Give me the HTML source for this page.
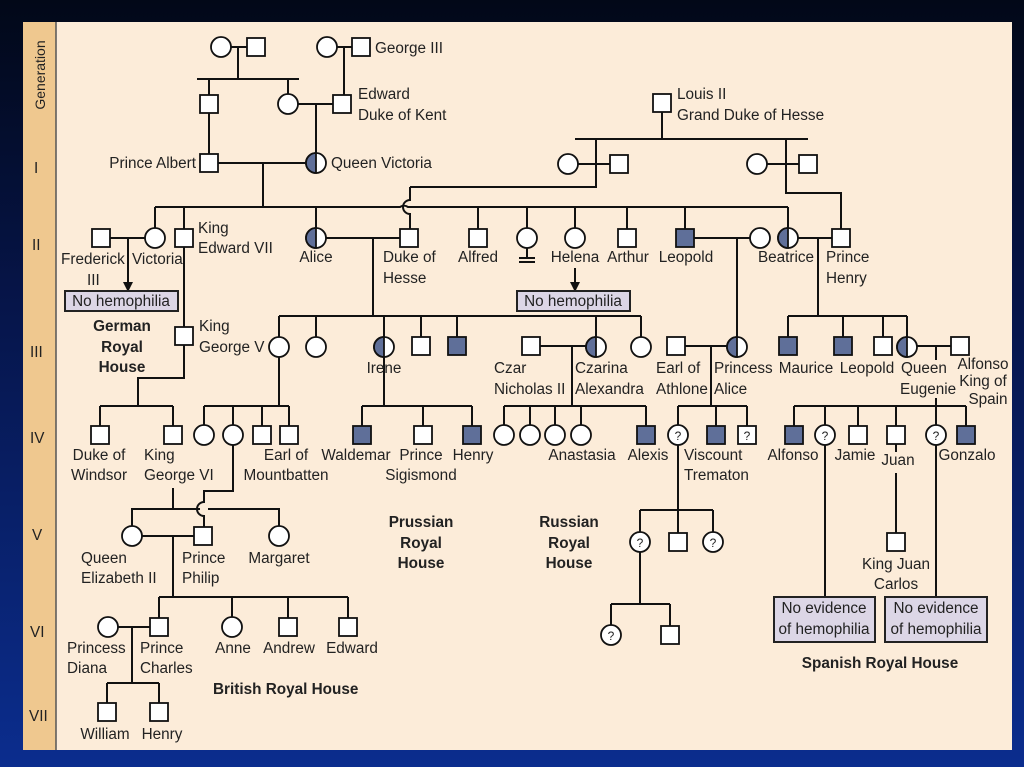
<!DOCTYPE html>
<html><head><meta charset="utf-8"><style>
html,body{margin:0;padding:0;width:1024px;height:767px;overflow:hidden;background:linear-gradient(#020818,#06154a 40%,#0b2d8e);}
svg{position:absolute;left:0;top:0}
text{font-family:"Liberation Sans",sans-serif;font-size:15.3px;fill:#222}
.b{font-weight:bold}
</style></head><body>
<svg width="1024" height="767" viewBox="0 0 1024 767">
<rect x="23" y="22" width="989" height="728" fill="#fcecd9"/>
<rect x="23" y="22" width="33" height="728" fill="#efc88f"/>
<line x1="56" y1="22" x2="56" y2="750" stroke="#555" stroke-width="1.5"/>
<text transform="translate(45,75) rotate(-90)" text-anchor="middle" style="font-size:14px">Generation</text>
<g>
<text x="34" y="173">I</text><text x="32" y="250">II</text><text x="30" y="357">III</text>
<text x="30" y="443">IV</text><text x="32" y="540">V</text><text x="30" y="637">VI</text><text x="29" y="721">VII</text>
</g>
<g stroke="#111" stroke-width="2" fill="none">
<path d="M221,47H256M238,47V79M197,79H299M209,79V104M288,79V104"/>
<path d="M327,47H361M344,47V104M288,104H342M316,104V163"/>
<path d="M209,104V163M209,163H316M263,163V207"/>
<path d="M155,207H400A7,7 0 0 1 408,207H788"/>
<path d="M410,187V200A7,7 0 0 0 410,214V238"/>
<path d="M410,187H596V139M575,139H808M568,164H619M757,164H808M786,139V193H841V238"/>
<path d="M662,103V139"/>
<path d="M155,207V238M184,207V336M316,207V238M478,207V238M527,207V238M575,207V238M627,207V238M685,207V238M788,207V238"/>
<path d="M101,238H155M128,238V284M316,238H409M373,238V316"/>
<path d="M527,248V258M519,258H535M519,262H535"/>
<path d="M575,268V284"/>
<path d="M685,238H760M737,238V346M788,238H841M818,238V316"/>
<path d="M279,316H641M279,316V346M316,316V346M384,316V346M421,316V346M457,316V346M596,316V346M641,316V346"/>
<path d="M788,316H907M788,316V346M843,316V346M883,316V346M907,316V346"/>
<path d="M531,346H596M572,346V406M676,346H737M711,346V406M907,346H960M936,346V360M936,398V406"/>
<path d="M184,336V378H138V406M100,406H173M100,406V426M173,406V426"/>
<path d="M279,346V406M204,406H289M204,406V426M233,406V426M262,406V426M289,406V426"/>
<path d="M384,356V406M362,406H472M362,406V426M423,406V426M472,406V426"/>
<path d="M504,406H646M504,406V426M530,406V426M555,406V426M581,406V426M646,406V426"/>
<path d="M678,406H747M678,406V426M716,406V426M747,406V426"/>
<path d="M794,406H966M794,406V426M825,406V426M858,406V426M896,406V426M936,406V426M966,406V426"/>
<path d="M233,445V491H204V502A7,7 0 0 0 204,516V527"/>
<path d="M173,488V509H132V526M132,509H200M208,509H279V526"/>
<path d="M132,536H204M173,536V597M159,597H348M159,597V618M232,597V617M288,597V618M348,597V618"/>
<path d="M108,627H159M132,627V683M107,683H159M107,683V703M159,683V703"/>
<path d="M678,445V510M640,510H713M640,510V532M678,510V533M713,510V532M640,552V604M611,604H670M611,604V625M670,604V626"/>
<path d="M825,445V597M936,445V597M896,444V452M896,473V533"/>
</g>
<polygon points="123,282 133,282 128,292" fill="#111"/>
<polygon points="570,282 580,282 575,292" fill="#111"/>
<g stroke="#222" stroke-width="2" fill="#dcd6e6">
<rect x="65" y="291" width="113" height="20"/>
<rect x="517" y="291" width="113" height="20"/>
<rect x="774" y="597" width="101" height="45"/>
<rect x="885" y="597" width="102" height="45"/>
</g>
<g text-anchor="middle">
<text x="121" y="306">No hemophilia</text><text x="573" y="306">No hemophilia</text>
<text x="824" y="613">No evidence</text><text x="824" y="634">of hemophilia</text>
<text x="936" y="613">No evidence</text><text x="936" y="634">of hemophilia</text>
</g>
<g stroke="#111" stroke-width="1.8" fill="#fff">
<rect x="247" y="38" width="18" height="18"/><rect x="352" y="38" width="18" height="18"/>
<rect x="200" y="95" width="18" height="18"/><rect x="333" y="95" width="18" height="18"/>
<rect x="653" y="94" width="18" height="18"/>
<rect x="200" y="154" width="18" height="18"/>
<rect x="610" y="155" width="18" height="18"/><rect x="799" y="155" width="18" height="18"/>
<rect x="92" y="229" width="18" height="18"/><rect x="175" y="229" width="18" height="18"/>
<rect x="400" y="229" width="18" height="18"/><rect x="469" y="229" width="18" height="18"/>
<rect x="618" y="229" width="18" height="18"/><rect x="832" y="229" width="18" height="18"/>
<rect x="175" y="327" width="18" height="18"/><rect x="412" y="337" width="18" height="18"/>
<rect x="522" y="337" width="18" height="18"/><rect x="667" y="337" width="18" height="18"/>
<rect x="874" y="337" width="18" height="18"/><rect x="951" y="337" width="18" height="18"/>
<rect x="91" y="426" width="18" height="18"/><rect x="164" y="426" width="18" height="18"/>
<rect x="253" y="426" width="18" height="18"/><rect x="280" y="426" width="18" height="18"/>
<rect x="414" y="426" width="18" height="18"/><rect x="849" y="426" width="18" height="18"/>
<rect x="887" y="426" width="18" height="18"/>
<rect x="194" y="527" width="18" height="18"/><rect x="669" y="533" width="18" height="18"/>
<rect x="887" y="533" width="18" height="18"/>
<rect x="150" y="618" width="18" height="18"/><rect x="279" y="618" width="18" height="18"/>
<rect x="339" y="618" width="18" height="18"/><rect x="661" y="626" width="18" height="18"/>
<rect x="98" y="703" width="18" height="18"/><rect x="150" y="703" width="18" height="18"/>
<rect x="738" y="426" width="18" height="18"/>
<circle cx="221" cy="47" r="10"/><circle cx="327" cy="47" r="10"/><circle cx="288" cy="104" r="10"/>
<circle cx="568" cy="164" r="10"/><circle cx="757" cy="164" r="10"/>
<circle cx="155" cy="238" r="10"/><circle cx="527" cy="238" r="10"/><circle cx="575" cy="238" r="10"/><circle cx="760" cy="238" r="10"/>
<circle cx="279" cy="347" r="10"/><circle cx="316" cy="347" r="10"/><circle cx="641" cy="347" r="10"/>
<circle cx="204" cy="435" r="10"/><circle cx="233" cy="435" r="10"/>
<circle cx="504" cy="435" r="10"/><circle cx="530" cy="435" r="10"/><circle cx="555" cy="435" r="10"/><circle cx="581" cy="435" r="10"/>
<circle cx="132" cy="536" r="10"/><circle cx="279" cy="536" r="10"/>
<circle cx="108" cy="627" r="10"/><circle cx="232" cy="627" r="10"/>
<circle cx="678" cy="435" r="10"/><circle cx="825" cy="435" r="10"/><circle cx="936" cy="435" r="10"/>
<circle cx="640" cy="542" r="10"/><circle cx="713" cy="542" r="10"/><circle cx="611" cy="635" r="10"/>
</g>
<g stroke="#111" stroke-width="1.8" fill="#5f6f99">
<rect x="676" y="229" width="18" height="18"/><rect x="448" y="337" width="18" height="18"/>
<rect x="779" y="337" width="18" height="18"/><rect x="834" y="337" width="18" height="18"/>
<rect x="353" y="426" width="18" height="18"/><rect x="463" y="426" width="18" height="18"/>
<rect x="637" y="426" width="18" height="18"/><rect x="707" y="426" width="18" height="18"/>
<rect x="785" y="426" width="18" height="18"/><rect x="957" y="426" width="18" height="18"/>
</g>
<g stroke="#111" stroke-width="1.8">
<g transform="translate(316,163)"><circle r="10" fill="#fff"/><path d="M0,-10A10,10 0 0 0 0,10Z" fill="#5f6f99"/></g>
<g transform="translate(316,238)"><circle r="10" fill="#fff"/><path d="M0,-10A10,10 0 0 0 0,10Z" fill="#5f6f99"/></g>
<g transform="translate(788,238)"><circle r="10" fill="#fff"/><path d="M0,-10A10,10 0 0 0 0,10Z" fill="#5f6f99"/></g>
<g transform="translate(384,347)"><circle r="10" fill="#fff"/><path d="M0,-10A10,10 0 0 0 0,10Z" fill="#5f6f99"/></g>
<g transform="translate(596,347)"><circle r="10" fill="#fff"/><path d="M0,-10A10,10 0 0 0 0,10Z" fill="#5f6f99"/></g>
<g transform="translate(737,347)"><circle r="10" fill="#fff"/><path d="M0,-10A10,10 0 0 0 0,10Z" fill="#5f6f99"/></g>
<g transform="translate(907,347)"><circle r="10" fill="#fff"/><path d="M0,-10A10,10 0 0 0 0,10Z" fill="#5f6f99"/></g>
</g>
<g text-anchor="middle">
<text x="678" y="440" style="font-size:12px">?</text><text x="747" y="440" style="font-size:12px">?</text>
<text x="825" y="440" style="font-size:12px">?</text><text x="936" y="440" style="font-size:12px">?</text>
<text x="640" y="547" style="font-size:12px">?</text><text x="713" y="547" style="font-size:12px">?</text>
<text x="611" y="640" style="font-size:12px">?</text>
</g>
<text x="375" y="53">George III</text>
<text x="358" y="99">Edward</text><text x="358" y="120">Duke of Kent</text>
<text x="677" y="99">Louis II</text><text x="677" y="120">Grand Duke of Hesse</text>
<text x="196" y="168" text-anchor="end">Prince Albert</text>
<text x="331" y="168">Queen Victoria</text>
<text x="61" y="264">Frederick</text><text x="87" y="285">III</text>
<text x="132" y="264">Victoria</text>
<text x="198" y="233">King</text><text x="198" y="253">Edward VII</text>
<text x="316" y="262" text-anchor="middle">Alice</text>
<text x="383" y="262">Duke of</text><text x="383" y="283">Hesse</text>
<text x="478" y="262" text-anchor="middle">Alfred</text>
<text x="575" y="262" text-anchor="middle">Helena</text>
<text x="628" y="262" text-anchor="middle">Arthur</text>
<text x="686" y="262" text-anchor="middle">Leopold</text>
<text x="786" y="262" text-anchor="middle">Beatrice</text>
<text x="826" y="262">Prince</text><text x="826" y="283">Henry</text>
<text x="122" y="331" text-anchor="middle" class="b">German</text>
<text x="122" y="352" text-anchor="middle" class="b">Royal</text>
<text x="122" y="372" text-anchor="middle" class="b">House</text>
<text x="199" y="331">King</text><text x="199" y="352">George V</text>
<text x="384" y="373" text-anchor="middle">Irene</text>
<text x="494" y="373">Czar</text><text x="494" y="394">Nicholas II</text>
<text x="575" y="373">Czarina</text><text x="575" y="394">Alexandra</text>
<text x="656" y="373">Earl of</text><text x="656" y="394">Athlone</text>
<text x="714" y="373">Princess</text><text x="714" y="394">Alice</text>
<text x="806" y="373" text-anchor="middle">Maurice</text>
<text x="867" y="373" text-anchor="middle">Leopold</text>
<text x="901" y="373">Queen</text><text x="900" y="394">Eugenie</text>
<text x="983" y="369" text-anchor="middle">Alfonso</text><text x="983" y="386" text-anchor="middle">King of</text><text x="988" y="404" text-anchor="middle">Spain</text>
<text x="99" y="460" text-anchor="middle">Duke of</text><text x="99" y="480" text-anchor="middle">Windsor</text>
<text x="144" y="460">King</text><text x="144" y="480">George VI</text>
<text x="286" y="460" text-anchor="middle">Earl of</text><text x="286" y="480" text-anchor="middle">Mountbatten</text>
<text x="356" y="460" text-anchor="middle">Waldemar</text>
<text x="421" y="460" text-anchor="middle">Prince</text><text x="421" y="480" text-anchor="middle">Sigismond</text>
<text x="473" y="460" text-anchor="middle">Henry</text>
<text x="582" y="460" text-anchor="middle">Anastasia</text>
<text x="648" y="460" text-anchor="middle">Alexis</text>
<text x="684" y="460">Viscount</text><text x="684" y="480">Trematon</text>
<text x="793" y="460" text-anchor="middle">Alfonso</text>
<text x="855" y="460" text-anchor="middle">Jamie</text>
<text x="898" y="465" text-anchor="middle">Juan</text>
<text x="967" y="460" text-anchor="middle">Gonzalo</text>
<text x="81" y="563">Queen</text><text x="81" y="583">Elizabeth II</text>
<text x="182" y="563">Prince</text><text x="182" y="583">Philip</text>
<text x="279" y="563" text-anchor="middle">Margaret</text>
<text x="421" y="527" text-anchor="middle" class="b">Prussian</text>
<text x="421" y="548" text-anchor="middle" class="b">Royal</text>
<text x="421" y="568" text-anchor="middle" class="b">House</text>
<text x="569" y="527" text-anchor="middle" class="b">Russian</text>
<text x="569" y="548" text-anchor="middle" class="b">Royal</text>
<text x="569" y="568" text-anchor="middle" class="b">House</text>
<text x="896" y="569" text-anchor="middle">King Juan</text><text x="896" y="589" text-anchor="middle">Carlos</text>
<text x="67" y="653">Princess</text><text x="67" y="673">Diana</text>
<text x="140" y="653">Prince</text><text x="140" y="673">Charles</text>
<text x="233" y="653" text-anchor="middle">Anne</text>
<text x="289" y="653" text-anchor="middle">Andrew</text>
<text x="352" y="653" text-anchor="middle">Edward</text>
<text x="213" y="694" class="b">British Royal House</text>
<text x="880" y="668" text-anchor="middle" class="b">Spanish Royal House</text>
<text x="105" y="739" text-anchor="middle">William</text>
<text x="162" y="739" text-anchor="middle">Henry</text>
</svg>
</body></html>
